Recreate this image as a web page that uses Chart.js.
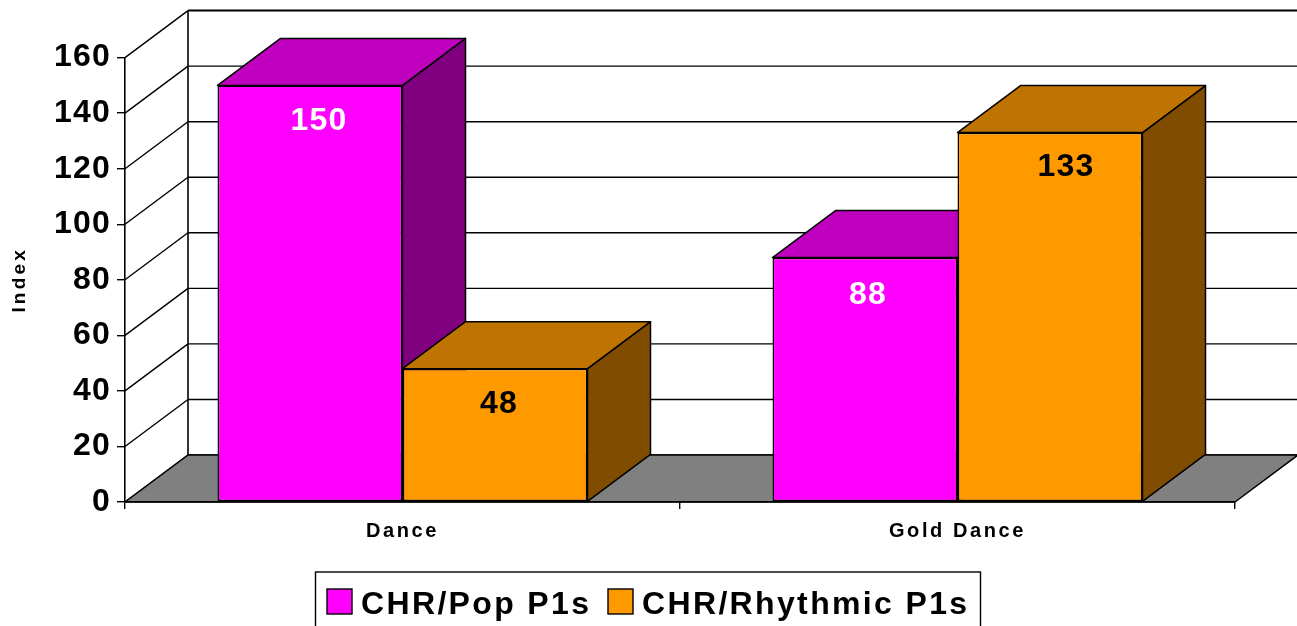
<!DOCTYPE html>
<html>
<head>
<meta charset="utf-8">
<style>
  html, body { margin: 0; padding: 0; background: #fff; overflow: hidden; }
  canvas { display: block; }
</style>
</head>
<body>
<canvas id="myChart" width="1297" height="626"></canvas>
<script src="https://cdn.jsdelivr.net/npm/chart.js@4"></script>
<script>
const categories = ["Dance", "Gold Dance"];
const chrPop = [150, 88];
const chrRhythmic = [48, 133];

const seriesNames = ["CHR/Pop P1s", "CHR/Rhythmic P1s"];
const frontColors = ["#FF00FF", "#FF9900"];
const topColors = ["#BF00BF", "#BF7300"];
const sideColors = ["#800080", "#804D00"];
const labelColors = ["#FFFFFF", "#000000"];

const FONT = "'Liberation Sans', Arial, sans-serif";
// how far the 3d box goes back
const depthX = 63;
const depthY = 47;
// value labels do not sit centred on the bars in the original
const labelShift = [[9, 3], [4, 16]];
const labelDrop = [[36, 38], [35, 35]];

function polygon(ctx, points, fill, width) {
  ctx.beginPath();
  points.forEach((p, i) => (i ? ctx.lineTo(p[0], p[1]) : ctx.moveTo(p[0], p[1])));
  ctx.closePath();
  ctx.fillStyle = fill;
  ctx.fill();
  ctx.lineWidth = width;
  ctx.strokeStyle = "#000";
  ctx.lineJoin = "round";
  ctx.stroke();
}

function line(ctx, x1, y1, x2, y2, width) {
  ctx.beginPath();
  ctx.moveTo(x1, y1);
  ctx.lineTo(x2, y2);
  ctx.lineWidth = width;
  ctx.strokeStyle = "#000";
  ctx.stroke();
}

// canvas letter spacing differs per axis, the library has no option for it
function withSpacing(scale, method, spacing) {
  const original = scale[method];
  scale[method] = function (arg) {
    this.ctx.letterSpacing = spacing;
    original.call(this, arg);
    this.ctx.letterSpacing = "0px";
  };
}

const walls3d = {
  id: "walls3d",
  afterLayout(chart) {
    if (chart.$spaced) return;
    chart.$spaced = true;
    withSpacing(chart.scales.y, "drawLabels", "1.2px");
    withSpacing(chart.scales.y, "drawTitle", "3.2px");
    withSpacing(chart.scales.x, "drawLabels", "2.6px");
  },
  beforeDraw(chart) {
    const ctx = chart.ctx;
    const area = chart.chartArea;
    const y = chart.scales.y;
    const backLeft = area.left + depthX;
    const backRight = area.right + depthX;

    ctx.save();
    y.ticks.forEach((tick) => {
      const py = y.getPixelForValue(tick.value);
      line(ctx, area.left, py, backLeft, py - depthY, 1.4);
      line(ctx, backLeft, py - depthY, backRight, py - depthY, tick.value === 160 ? 2 : 1.4);
    });
    line(ctx, backLeft, area.top - depthY, backLeft, area.bottom - depthY, 1.6);

    polygon(ctx, [
      [area.left, area.bottom],
      [backLeft, area.bottom - depthY],
      [backRight, area.bottom - depthY],
      [area.right, area.bottom],
    ], "#808080", 1.5);
    ctx.restore();
  },
  beforeDatasetsDraw(chart) {
    const ctx = chart.ctx;
    ctx.save();
    chart.data.datasets.forEach((ds, i) => {
      chart.getDatasetMeta(i).data.forEach((bar) => {
        const left = bar.x - bar.width / 2;
        const right = bar.x + bar.width / 2;
        polygon(ctx, [
          [right, bar.y],
          [right + depthX, bar.y - depthY],
          [right + depthX, bar.base - depthY],
          [right, bar.base],
        ], sideColors[i], 1.5);
        polygon(ctx, [
          [left, bar.y],
          [left + depthX, bar.y - depthY],
          [right + depthX, bar.y - depthY],
          [right, bar.y],
        ], topColors[i], 1.5);
      });
    });
    ctx.restore();
  },
  afterDatasetsDraw(chart) {
    const ctx = chart.ctx;
    ctx.save();
    ctx.font = "bold 32px " + FONT;
    ctx.letterSpacing = "1.2px";
    ctx.textAlign = "center";
    ctx.textBaseline = "middle";
    chart.data.datasets.forEach((ds, i) => {
      chart.getDatasetMeta(i).data.forEach((bar, j) => {
        ctx.fillStyle = labelColors[i];
        ctx.fillText(ds.data[j], bar.x + labelShift[i][j], bar.y + labelDrop[i][j]);
      });
    });
    ctx.restore();
  },
  afterDraw(chart) {
    // legend box runs off the bottom of the picture
    const ctx = chart.ctx;
    ctx.save();
    ctx.lineWidth = 1.4;
    ctx.strokeStyle = "#000";
    ctx.strokeRect(315.5, 572, 665, 70);
    const swatchX = [327, 608];
    ctx.font = "bold 32px " + FONT;
    ctx.letterSpacing = "2.35px";
    ctx.textBaseline = "alphabetic";
    seriesNames.forEach((name, i) => {
      ctx.fillStyle = frontColors[i];
      ctx.fillRect(swatchX[i], 589, 25, 25);
      ctx.strokeRect(swatchX[i], 589, 25, 25);
      ctx.fillStyle = "#000";
      ctx.fillText(name, swatchX[i] + 34, 614);
    });
    ctx.restore();
  },
};

new Chart(document.getElementById("myChart"), {
  type: "bar",
  data: {
    labels: categories,
    datasets: [
      { label: seriesNames[0], data: chrPop, backgroundColor: frontColors[0] },
      { label: seriesNames[1], data: chrRhythmic, backgroundColor: frontColors[1] },
    ],
  },
  options: {
    responsive: false,
    animation: false,
    layout: { padding: { top: 57.6, right: 62 } },
    datasets: {
      bar: {
        categoryPercentage: 2 / 3,
        barPercentage: 1,
        borderColor: "#000",
        borderWidth: 1.6,
        borderSkipped: false,
      },
    },
    plugins: {
      legend: { display: false },
      tooltip: { enabled: false },
    },
    scales: {
      x: {
        afterFit(scale) {
          scale.height = 124;
        },
        border: { display: true, color: "#000", width: 1.6 },
        grid: { drawOnChartArea: false, drawTicks: true, tickLength: 7, color: "#000", lineWidth: 1.4 },
        ticks: {
          color: "#000",
          padding: 10,
          maxRotation: 0,
          font: { family: FONT, size: 20, weight: "bold" },
        },
      },
      y: {
        min: 0,
        max: 160,
        afterFit(scale) {
          scale.width = 125;
        },
        border: { display: true, color: "#000", width: 1.6 },
        grid: { drawOnChartArea: false, drawTicks: true, tickLength: 8, color: "#000", lineWidth: 1.4 },
        title: {
          display: true,
          text: "Index",
          color: "#000",
          padding: { top: 8, bottom: 0 },
          font: { family: FONT, size: 19, weight: "bold" },
        },
        ticks: {
          stepSize: 20,
          color: "#000",
          padding: 6,
          font: { family: FONT, size: 32, weight: "bold" },
        },
      },
    },
  },
  plugins: [walls3d],
});
</script>
</body>
</html>
